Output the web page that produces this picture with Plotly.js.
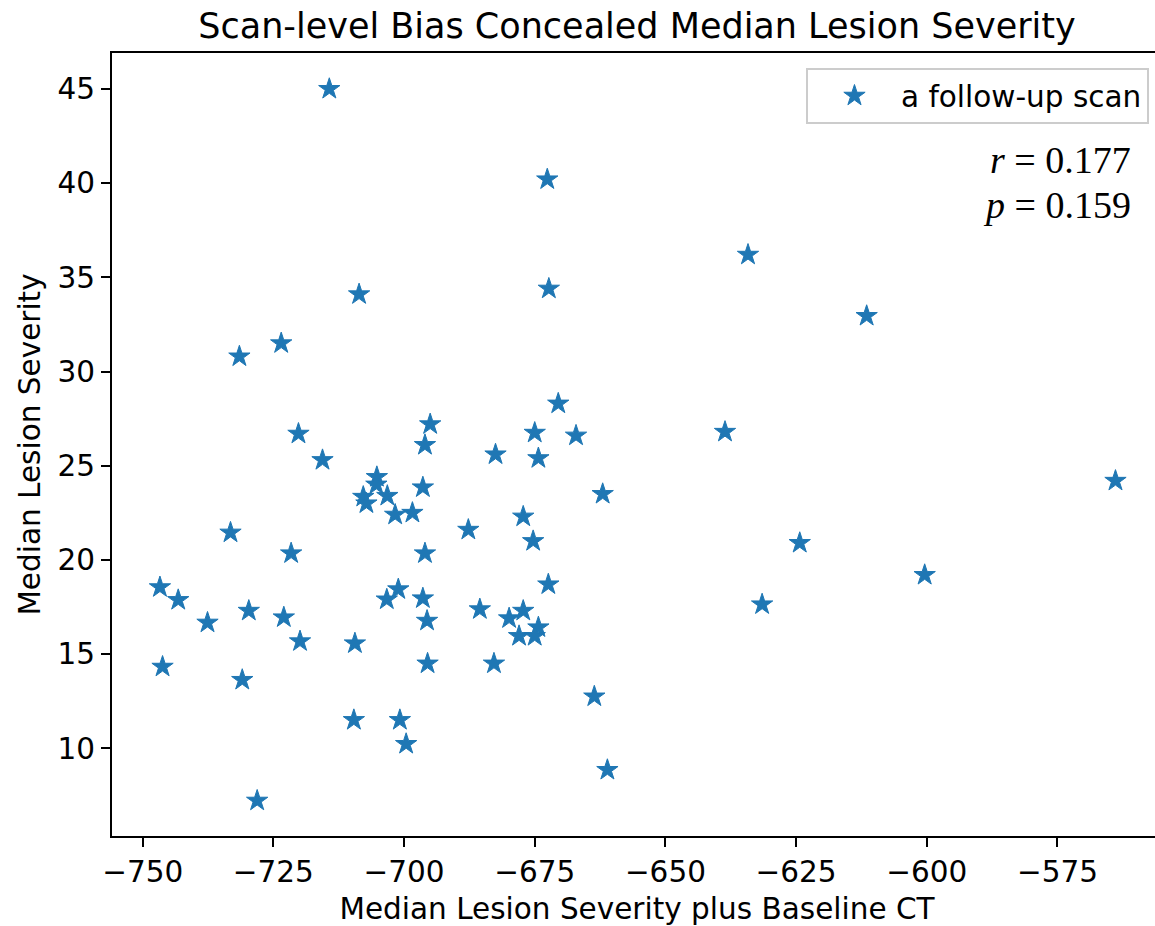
<!DOCTYPE html>
<html>
<head>
<meta charset="utf-8">
<script src="https://cdn.plot.ly/plotly-3.0.1.min.js"></script>
<style>
  html, body { margin: 0; padding: 0; overflow: hidden; background: #fff; }
  #chart { width: 1165px; height: 926px; }
</style>
</head>
<body>
<div id="chart"></div>
<script>
// Median Lesion Severity plus Baseline CT (x) vs Median Lesion Severity (y)
const xValues = [
  -714.3, -672.6, -634.2, -611.5, -708.6, -672.3, -723.5, -731.5, -670.5, -695.0,
  -720.2, -675.0, -667.1, -638.6, -696.0, -715.6, -682.5, -674.3, -705.2, -705.3,
  -707.8, -707.2, -703.2, -701.7, -698.4, -696.4, -662.0, -677.2, -687.7, -675.3,
  -733.2, -721.6, -696.0, -624.3, -563.9, -600.4, -672.4, -746.7, -743.2, -701.1,
  -703.3, -696.4, -737.6, -729.7, -723.0, -719.9, -709.4, -695.6, -685.5, -677.2,
  -679.9, -674.3, -678.0, -675.0, -631.5, -746.2, -695.5, -682.8, -730.95, -663.6,
  -709.6, -700.8, -699.6, -661.1, -728.1
];
const yValues = [
  45.0, 40.2, 36.2, 32.95, 34.1, 34.4, 31.5, 30.8, 28.3, 27.2,
  26.7, 26.75, 26.6, 26.8, 26.1, 25.3, 25.6, 25.4, 24.4, 24.0,
  23.35, 23.0, 23.4, 22.4, 22.5, 23.85, 23.5, 22.3, 21.6, 21.0,
  21.45, 20.35, 20.35, 20.9, 24.2, 19.2, 18.7, 18.55, 17.87, 18.44,
  17.9, 17.96, 16.67, 17.3, 16.95, 15.68, 15.57, 16.77, 17.38, 17.3,
  16.9, 16.42, 15.96, 15.96, 17.64, 14.33, 14.5, 14.5, 13.63, 12.75,
  11.5, 11.5, 10.23, 8.85, 7.22
];
const xTicks = [-750, -725, -700, -675, -650, -625, -600, -575];
const yTicks = [10, 15, 20, 25, 30, 35, 40, 45];
const seriesName = "a follow-up scan";
const statLines = ["<i>r</i> = 0.177", "<i>p</i> = 0.159"];

const font = "DejaVu Sans, sans-serif";
const ink = "#000";
const labelSize = 29.5;

const trace = {
  type: "scatter",
  mode: "markers",
  x: xValues,
  y: yValues,
  name: seriesName,
  marker: { symbol: "star", size: 16, color: "#1f77b4", line: { width: 1, color: "#1f77b4" } },
  showlegend: true
};

const layout = {
  width: 1165,
  height: 926,
  margin: { l: 112, r: 3, t: 53, b: 90 },
  paper_bgcolor: "#fff",
  plot_bgcolor: "#fff",
  font: { family: font, color: ink, size: labelSize },
  title: {
    text: "Scan-level Bias Concealed Median Lesion Severity",
    font: { family: font, size: 35, color: ink },
    x: 0.5, xref: "paper", xanchor: "center",
    y: 0.972, yref: "container", yanchor: "middle"
  },
  xaxis: {
    range: [-755.87, -555.0],
    tickmode: "array",
    tickvals: xTicks,
    ticktext: xTicks.map(v => v < 0 ? "\u2212" + Math.abs(v) : String(v)),
    ticks: "outside", ticklen: 9, tickwidth: 2, tickcolor: ink,
    showline: true, linecolor: ink, linewidth: 2, mirror: true,
    showgrid: false, zeroline: false,
    tickfont: { family: font, size: labelSize, color: ink },
    title: { text: "Median Lesion Severity plus Baseline CT", font: { family: font, size: labelSize, color: ink }, standoff: 10 }
  },
  yaxis: {
    range: [5.345, 46.91],
    tickmode: "array",
    tickvals: yTicks,
    ticktext: yTicks.map(String),
    ticks: "outside", ticklen: 9, tickwidth: 2, tickcolor: ink,
    showline: true, linecolor: ink, linewidth: 2, mirror: false,
    showgrid: false, zeroline: false,
    tickfont: { family: font, size: labelSize, color: ink },
    title: { text: "Median Lesion Severity", font: { family: font, size: labelSize, color: ink }, standoff: 8 }
  },
  legend: {
    x: 0.9876, xanchor: "right",
    y: 0.9808, yanchor: "top",
    bgcolor: "#fff",
    bordercolor: "#cccccc",
    borderwidth: 2,
    font: { family: font, size: labelSize, color: ink },
    itemwidth: 83
  },
  annotations: [
    {
      text: statLines[0], xref: "paper", yref: "paper",
      x: 0.9724, y: (836 - 160) / 783, xanchor: "right", yanchor: "middle",
      showarrow: false, font: { family: "Liberation Serif, serif", size: 38, color: ink }
    },
    {
      text: statLines[1], xref: "paper", yref: "paper",
      x: 0.9724, y: (836 - 205) / 783, xanchor: "right", yanchor: "middle",
      showarrow: false, font: { family: "Liberation Serif, serif", size: 38, color: ink }
    }
  ]
};

Plotly.newPlot("chart", [trace], layout, { displayModeBar: false, staticPlot: true });
</script>
</body>
</html>
